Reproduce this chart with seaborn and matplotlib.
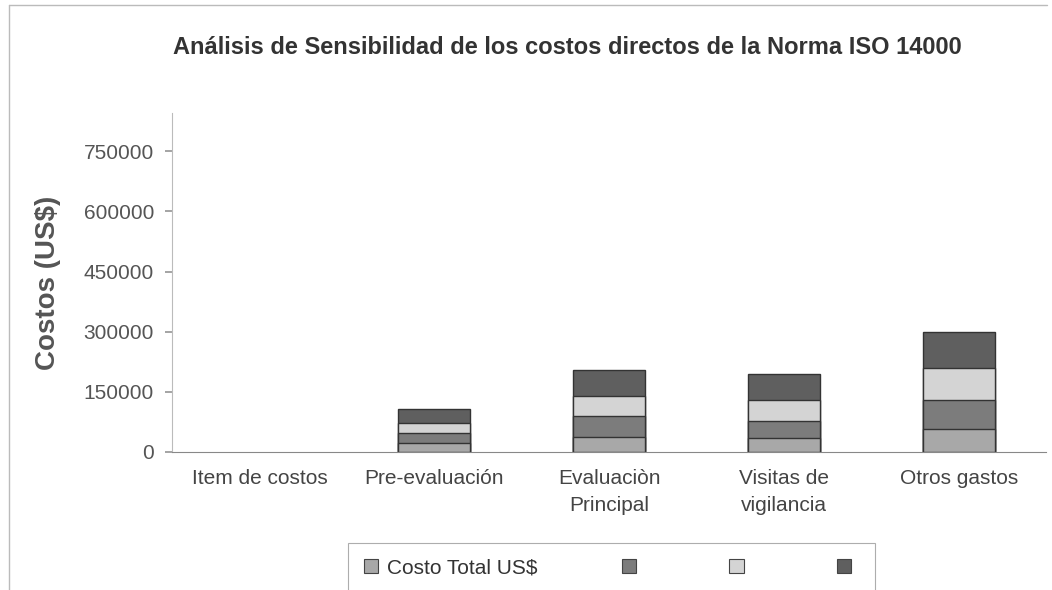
import numpy as np
import pandas as pd
import matplotlib
matplotlib.use("Agg")
import matplotlib.pyplot as plt
from matplotlib.patches import Patch
from matplotlib.lines import Line2D
import seaborn as sns

# Datos (US$)
categorias = ["Item de costos", "Pre-evaluación", "Evaluaciòn\nPrincipal",
              "Visitas de\nvigilancia", "Otros gastos"]
costo_total = [0, 22000, 37500, 35000, 57500]
serie_2 = [0, 25000, 52500, 42500, 72500]
serie_3 = [0, 25000, 50000, 52500, 80000]
serie_4 = [0, 35000, 65000, 65000, 90000]
etiquetas_leyenda = ["Costo Total US$", "", "", ""]
y_ticks = [0, 150000, 300000, 450000, 600000, 750000]

colores = ["#a8a8a8", "#7c7c7c", "#d4d4d4", "#5f5f5f"]

sns.set_theme(style="white")
plt.rcParams['font.family'] = ['Liberation Sans', 'DejaVu Sans']

series = [costo_total, serie_2, serie_3, serie_4]
acumulado = np.cumsum(np.array(series), axis=0)
df = pd.DataFrame({"categoria": categorias})
for i in range(4):
    df["s%d" % i] = acumulado[i]

fig = plt.figure(figsize=(10.52, 5.9), dpi=100)
ax = fig.add_axes([0.1635, 0.234, 0.831, 0.574])

# barras apiladas: se dibuja de la suma total hacia abajo
for i in range(3, -1, -1):
    sns.barplot(data=df, x="categoria", y="s%d" % i, color=colores[i],
                width=0.41, edgecolor="#333333", linewidth=1.0,
                saturation=1, ax=ax)

# sin borde para las barras de altura cero
for p in ax.patches:
    if p.get_height() == 0:
        p.set_linewidth(0)

ax.set_ylim(0, 845000)
ax.set_xlim(-0.5, 4.5)
ax.set_yticks(y_ticks)
ax.set_yticklabels([str(v) for v in y_ticks], fontsize=15, color="#555555")
ax.set_xticks(range(len(categorias)))
ax.set_xticklabels(categorias, fontsize=15, color="#444444", linespacing=1.55)
ax.set_xticks(np.arange(-0.5, 5, 1), minor=True)
ax.tick_params(axis="x", which="major", length=0, pad=12)
ax.tick_params(axis="x", which="minor", length=5, color="#999999", direction="out")
ax.tick_params(axis="y", length=5, color="#999999", direction="out", left=True, pad=8)
ax.set_xlabel("")
ax.set_ylabel("")

for s in ["top", "right"]:
    ax.spines[s].set_visible(False)
ax.spines["left"].set_color("#bbbbbb")
ax.spines["bottom"].set_color("#888888")
ax.spines["left"].set_linewidth(0.8)
ax.spines["bottom"].set_linewidth(0.8)

fig.text(0.539, 0.92, "Análisis de Sensibilidad de los costos directos de la Norma ISO 14000",
         ha="center", va="center", fontsize=17, fontweight="bold", color="#333333")
fig.text(0.046, 0.52, "Costos (US$)", rotation=90, ha="center", va="center",
         fontsize=20, fontweight="bold", color="#555555")

# marco del area del grafico
fig.add_artist(Line2D([0.009, 0.995], [0.992, 0.992], transform=fig.transFigure,
                      color="#bbbbbb", linewidth=1))
fig.add_artist(Line2D([0.009, 0.009], [0.0, 0.992], transform=fig.transFigure,
                      color="#bbbbbb", linewidth=1))

handles = [Patch(facecolor=c, edgecolor="#444444", linewidth=0.8) for c in colores]
leg = fig.legend(handles, etiquetas_leyenda, ncol=4, loc="upper left",
                 bbox_to_anchor=(0.331, 0.08, 0.501, 0), mode="expand",
                 fontsize=15, frameon=True, fancybox=False,
                 handlelength=0.7, handleheight=0.7, handletextpad=0.4,
                 borderaxespad=0, borderpad=0.75)
leg.get_frame().set_edgecolor("#999999")
leg.get_frame().set_linewidth(0.8)
for t in leg.get_texts():
    t.set_color("#333333")

fig.savefig("out.png", dpi=100)
